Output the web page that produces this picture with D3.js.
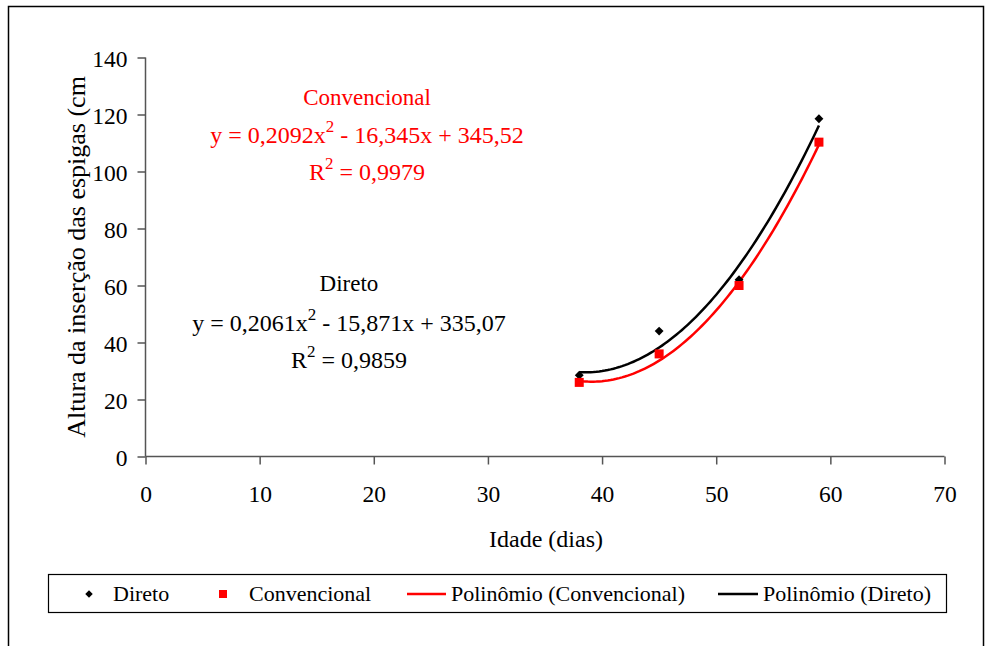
<!DOCTYPE html>
<html>
<head>
<meta charset="utf-8">
<script src="https://cdn.jsdelivr.net/npm/d3@7"></script>
<style>
  body { margin: 0; background: #fff; }
  svg text { font-family: "Liberation Serif", "Times New Roman", "DejaVu Serif", serif !important; }
</style>
</head>
<body>
<script>
	'use strict';

	// data
	var idade = [38, 45, 52, 59];
	var direto = [28.5, 44, 62, 118.5];
	var convencional = [26, 36, 60, 110.3];
	// trendline coefficients as printed on the chart (a, b, c)
	var coefDireto = [0.2061, -15.871, 335.07];
	var coefConv = [0.2092, -16.345, 345.52];
	var xTicks = [0, 10, 20, 30, 40, 50, 60, 70];
	var yTicks = [0, 20, 40, 60, 80, 100, 120, 140];

	var width = 985, height = 646;
	var svg = d3.select('body').append('svg')
		.attr('width', width).attr('height', height);

	svg.append('rect')
		.attr('x', 8.5).attr('y', 6.5)
		.attr('width', 975).attr('height', 660)
		.attr('fill', 'none').attr('stroke', '#000').attr('stroke-width', 1.5);

	var x = d3.scaleLinear().domain([0, 70]).range([145.5, 944.5]);
	var y = d3.scaleLinear().domain([0, 140]).range([456.5, 57.5]);

	var yAxis = svg.append('g')
		.attr('transform', 'translate(' + x(0) + ',0)')
		.call(d3.axisLeft(y).tickValues(yTicks).tickSize(8).tickPadding(10).tickFormat(d3.format('d')));
	var xAxis = svg.append('g')
		.attr('transform', 'translate(0,' + y(0) + ')')
		.call(d3.axisBottom(x).tickValues(xTicks).tickSize(8).tickFormat(d3.format('d')));

	[yAxis, xAxis].forEach(function(ax) {
		ax.attr('font-family', null);
		ax.select('.domain').attr('stroke', '#555').attr('stroke-width', 1.5);
		ax.selectAll('.tick line').attr('stroke', '#555').attr('stroke-width', 1.5);
		ax.selectAll('text').attr('font-size', 23.5).attr('fill', '#000');
	});
	yAxis.selectAll('.tick text').attr('dy', '0.38em');
	xAxis.selectAll('.tick text').attr('y', 45.5).attr('dy', 0);
	xAxis.select('.domain').attr('d', 'M' + x(0) + ',0H' + x(70));
	yAxis.select('.domain').attr('d', 'M0,' + y(0) + 'V' + y(140));

	svg.append('text')
		.attr('x', 546).attr('y', 547)
		.attr('text-anchor', 'middle').attr('font-size', 24)
		.text('Idade (dias)');
	svg.append('text')
		.attr('transform', 'translate(85,257) rotate(-90)')
		.attr('text-anchor', 'middle').attr('font-size', 26)
		.text('Altura da inserção das espigas (cm');

	// trendlines
	function poly(c) { return function(v) { return c[0] * v * v + c[1] * v + c[2]; }; }
	var xs = d3.range(idade[0], idade[idade.length - 1] + 0.01, 0.25);
	var line = d3.line().x(function(d) { return x(d[0]); }).y(function(d) { return y(d[1]); });

	var fConv = poly(coefConv), fDir = poly(coefDireto);
	svg.append('path')
		.attr('d', line(xs.map(function(v) { return [v, fConv(v)]; })))
		.attr('fill', 'none').attr('stroke', '#ff0000').attr('stroke-width', 2.5);
	svg.append('path')
		.attr('d', line(xs.map(function(v) { return [v, fDir(v)]; })))
		.attr('fill', 'none').attr('stroke', '#000').attr('stroke-width', 2.5);

	// markers
	var diamond = d3.symbol().type(d3.symbolDiamond2).size(50);
	svg.selectAll('.dir').data(idade).enter().append('path')
		.attr('class', 'dir')
		.attr('transform', function(d, i) { return 'translate(' + x(d) + ',' + y(direto[i]) + ')'; })
		.attr('d', diamond).attr('fill', '#000');
	svg.selectAll('.conv').data(idade).enter().append('rect')
		.attr('class', 'conv')
		.attr('x', function(d) { return x(d) - 4.5; })
		.attr('y', function(d, i) { return y(convencional[i]) - 4.5; })
		.attr('width', 9).attr('height', 9).attr('fill', '#ff0000');

	// equation labels
	function eqBlock(cx, top, gap1, gap2, color, title, a, rest, r2) {
		var g = svg.append('g').attr('fill', color).attr('text-anchor', 'middle');
		g.append('text').attr('x', cx).attr('y', top).attr('font-size', 23).text(title);
		var t = g.append('text').attr('x', cx).attr('y', top + gap1).attr('font-size', 24);
		t.append('tspan').text('y = ' + a + 'x');
		t.append('tspan').attr('dy', -11).attr('font-size', 17).text('2');
		t.append('tspan').attr('dy', 11).text(' ' + rest);
		var r = g.append('text').attr('x', cx).attr('y', top + gap2).attr('font-size', 24);
		r.append('tspan').text('R');
		r.append('tspan').attr('dy', -11).attr('font-size', 17).text('2');
		r.append('tspan').attr('dy', 11).text(' = ' + r2);
	}
	eqBlock(367, 105, 38, 75, '#ff0000', 'Convencional', '0,2092', '- 16,345x + 345,52', '0,9979');
	eqBlock(349, 291, 40, 77, '#000', 'Direto', '0,2061', '- 15,871x + 335,07', '0,9859');

	// legend
	var lg = svg.append('g').attr('font-size', 22);
	lg.append('rect').attr('x', 48.5).attr('y', 574.5).attr('width', 898).attr('height', 38)
		.attr('fill', '#fff').attr('stroke', '#000').attr('stroke-width', 1.2);
	lg.append('path').attr('transform', 'translate(89,594)')
		.attr('d', d3.symbol().type(d3.symbolDiamond2).size(36)).attr('fill', '#000');
	lg.append('text').attr('x', 113).attr('y', 601).text('Direto');
	lg.append('rect').attr('x', 219).attr('y', 590).attr('width', 8).attr('height', 8).attr('fill', '#ff0000');
	lg.append('text').attr('x', 249).attr('y', 601).text('Convencional');
	lg.append('line').attr('x1', 407).attr('x2', 446).attr('y1', 594).attr('y2', 594)
		.attr('stroke', '#ff0000').attr('stroke-width', 2.5);
	lg.append('text').attr('x', 451).attr('y', 601).text('Polinômio (Convencional)');
	lg.append('line').attr('x1', 718).attr('x2', 758).attr('y1', 594).attr('y2', 594)
		.attr('stroke', '#000').attr('stroke-width', 2.5);
	lg.append('text').attr('x', 763).attr('y', 601).text('Polinômio (Direto)');
</script>
</body>
</html>
